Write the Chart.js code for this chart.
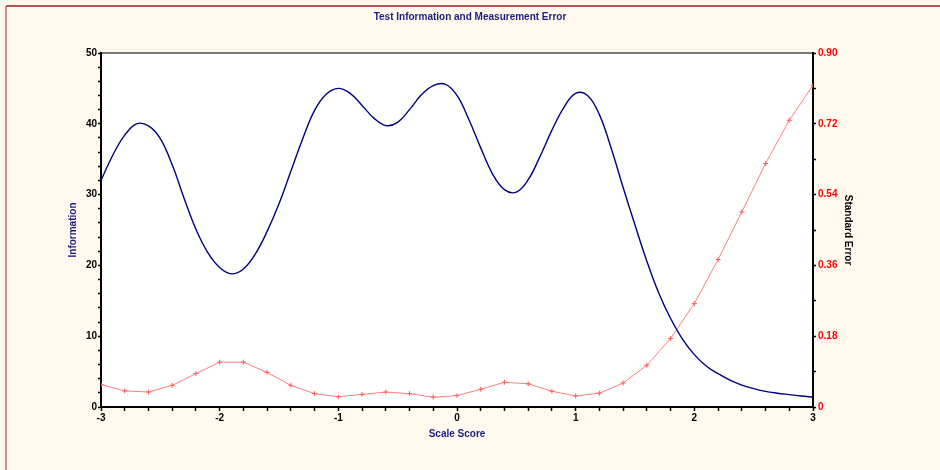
<!DOCTYPE html>
<html><head><meta charset="utf-8">
<script src="https://cdn.jsdelivr.net/npm/chart.js@4.4.1/dist/chart.umd.min.js"></script>
<style>html,body{margin:0;padding:0;background:#fff9ee;}canvas{display:block;}</style>
</head><body>
<canvas id="c" width="940" height="470"></canvas>
<script>
// ---- data ----
const infoScores = [-3.0,-2.9,-2.8,-2.7,-2.6,-2.5,-2.4,-2.3,-2.2,-2.1,-2.0,-1.9,-1.8,-1.7,-1.6,-1.5,-1.4,-1.3,-1.2,-1.1,-1.0,-0.9,-0.8,-0.7,-0.6,-0.5,-0.4,-0.3,-0.2,-0.1,0.0,0.1,0.2,0.3,0.4,0.5,0.6,0.7,0.8,0.9,1.0,1.1,1.2,1.3,1.4,1.5,1.6,1.7,1.8,1.9,2.0,2.1,2.2,2.3,2.4,2.5,2.6,2.7,2.8,2.9,3.0];
const infoValues = [32.0,35.6,38.4,40.0,39.7,37.9,34.2,29.5,25.1,21.8,19.7,18.8,19.5,21.6,24.8,28.7,33.3,37.9,41.9,44.2,45.0,44.3,42.6,40.8,39.75,40.2,42.0,44.1,45.4,45.6,44.0,40.6,36.6,32.9,30.7,30.35,32.1,35.4,39.1,42.3,44.3,44.0,41.3,36.5,31.0,25.7,20.6,16.1,12.5,9.6,7.4,5.8,4.7,3.8,3.1,2.6,2.2,1.95,1.75,1.55,1.4];
const seScores = [-3.0,-2.8,-2.6,-2.4,-2.2,-2.0,-1.8,-1.6,-1.4,-1.2,-1.0,-0.8,-0.6,-0.4,-0.2,0.0,0.2,0.4,0.6,0.8,1.0,1.2,1.4,1.6,1.8,2.0,2.2,2.4,2.6,2.8,3.0];
const seValues = [0.057,0.041,0.038,0.055,0.085,0.114,0.114,0.088,0.055,0.034,0.026,0.032,0.038,0.034,0.025,0.029,0.045,0.063,0.059,0.040,0.028,0.035,0.061,0.106,0.174,0.263,0.375,0.496,0.619,0.729,0.818];
const xMajorTicks = [-3,-2,-1,0,1,2,3];
const xTickLabels = ['-3','-2','-1','0','1','2','3'];
const infoMajorTicks = [0,10,20,30,40,50];
const infoTickLabels = ['0','10','20','30','40','50'];
const seMajorTicks = [0,0.18,0.36,0.54,0.72,0.90];
const seTickLabels = ['0','0.18','0.36','0.54','0.72','0.90'];

function labelFor(majors, labels) {
  return (v) => {
    const i = majors.findIndex(t => Math.abs(t - v) < 1e-6);
    return i >= 0 ? labels[i] : '';
  };
}

const SANS = '"Liberation Sans", Arial, sans-serif';

const framePlugin = {
  id: 'frame',
  beforeDraw(chart) {
    const {ctx, chartArea: a, width, height} = chart;
    ctx.save();
    ctx.fillStyle = '#fff9ee';
    ctx.fillRect(0, 0, width, height);
    ctx.lineWidth = 1.5;
    ctx.strokeStyle = '#9a1f1f';
    ctx.beginPath(); ctx.moveTo(6, 6); ctx.lineTo(width, 6); ctx.stroke();
    ctx.strokeStyle = '#c46a6a';
    ctx.beginPath(); ctx.moveTo(6, 6); ctx.lineTo(6, height); ctx.stroke();
    ctx.fillStyle = '#ffffff';
    ctx.fillRect(a.left, a.top, a.right - a.left, a.bottom - a.top);
    ctx.strokeStyle = '#7a7a7a';
    ctx.lineWidth = 2;
    ctx.beginPath(); ctx.moveTo(a.left, a.top); ctx.lineTo(a.right, a.top); ctx.stroke();
    ctx.restore();
  }
};

new Chart(document.getElementById('c'), {
  type: 'line',
  data: {
    datasets: [
      {
        label: 'Information',
        data: infoScores.map((x, i) => ({x, y: infoValues[i]})),
        yAxisID: 'y',
        borderColor: '#000080',
        borderWidth: 1.4,
        pointRadius: 0,
        tension: 0.4,
        order: 0
      },
      {
        label: 'Standard Error',
        data: seScores.map((x, i) => ({x, y: seValues[i]})),
        yAxisID: 'y1',
        borderColor: '#ff8080',
        backgroundColor: '#ff8080',
        borderWidth: 1,
        tension: 0,
        pointStyle: 'cross',
        pointRadius: 2.5,
        pointBorderColor: '#ff5a5a',
        pointBorderWidth: 1,
        order: 1
      }
    ]
  },
  options: {
    responsive: false,
    animation: false,
    layout: { padding: { top: 0, left: 0, right: 0, bottom: 13 } },
    plugins: {
      legend: { display: false },
      tooltip: { enabled: false },
      title: {
        display: true,
        text: 'Test Information and Measurement Error',
        color: '#1c1c80',
        font: { family: SANS, size: 10, weight: 'bold' },
        padding: { top: 11, bottom: 30 }
      }
    },
    scales: {
      x: {
        type: 'linear',
        min: -3, max: 3,
        afterFit(s) { s.height = 50; },
        border: { display: true, color: '#000000', width: 2 },
        grid: { drawOnChartArea: false, drawTicks: true, tickLength: 4, tickColor: '#000000', tickWidth: 1.5 },
        ticks: {
          stepSize: 0.2, autoSkip: false, maxRotation: 0, padding: 1,
          color: '#000000',
          font: { family: SANS, size: 10, weight: 'bold' },
          callback: labelFor(xMajorTicks, xTickLabels)
        },
        title: {
          display: true, text: 'Scale Score', color: '#1c1c80',
          font: { family: SANS, size: 10, weight: 'bold' },
          padding: { top: 0, bottom: 17 }
        }
      },
      y: {
        type: 'linear', position: 'left',
        min: 0, max: 50,
        afterFit(s) { s.width = 101; },
        border: { display: true, color: '#000000', width: 2 },
        grid: { drawOnChartArea: false, drawTicks: true, tickLength: 3, tickColor: '#000000', tickWidth: 1.5 },
        ticks: {
          stepSize: 2, autoSkip: false, padding: 1,
          color: '#000000',
          font: { family: SANS, size: 10, weight: 'bold' },
          callback: labelFor(infoMajorTicks, infoTickLabels)
        },
        title: {
          display: true, text: 'Information', color: '#1c1c80',
          font: { family: SANS, size: 10, weight: 'bold' },
          padding: { top: 67, bottom: 0 }
        }
      },
      y1: {
        type: 'linear', position: 'right',
        min: 0, max: 0.9,
        afterFit(s) { s.width = 127; },
        border: { display: true, color: '#000000', width: 2 },
        grid: { drawOnChartArea: false, drawTicks: true, tickLength: 3, tickColor: '#000000', tickWidth: 1.5 },
        ticks: {
          stepSize: 0.09, autoSkip: false, padding: 2,
          color: '#ff0000',
          font: { family: SANS, size: 10, weight: 'bold' },
          callback: labelFor(seMajorTicks, seTickLabels)
        },
        title: {
          display: true, text: 'Standard Error', color: '#000000',
          font: { family: SANS, size: 10, weight: 'bold' },
          padding: { top: 86, bottom: 0 }
        }
      }
    }
  },
  plugins: [framePlugin]
});
</script>
</body></html>
